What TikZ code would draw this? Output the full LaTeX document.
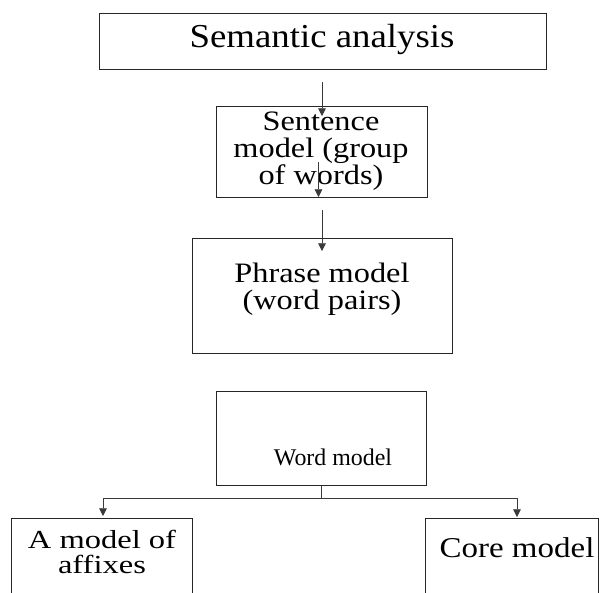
\documentclass[tikz,border=0pt]{standalone}
\usepackage{fontspec}
\setmainfont{Liberation Serif}
\newfontfamily\titlefont[FakeStretch=1.1]{Liberation Serif}
\newfontfamily\widefont[FakeStretch=1.15]{Liberation Serif}
\newfontfamily\widerfont[FakeStretch=1.25]{Liberation Serif}
\usetikzlibrary{arrows.meta}
\definecolor{semLine}{HTML}{262626}
\definecolor{semFlow}{HTML}{3A3A3A}
\tikzset{
  semfig/.style={
    x=0.025cm, y=-0.025cm,
    >={Triangle[length=5.5pt, width=5.5pt]},
  },
  levelbox/.style={
    draw=semLine, line width=0.7pt, fill=white, inner sep=0pt,
  },
  % Beschriftungen liegen frei im Kasten, nicht immer mittig.
  boxtext/.style={
    align=center, inner sep=0pt,
    font=\widefont\fontsize{20pt}{19pt}\selectfont,
  },
  flow/.style={draw=semFlow, line width=0.6pt, ->},
  branch/.style={draw=semFlow, line width=0.6pt},
}
\begin{document}
\begin{tikzpicture}[semfig]
  \clip (0,0) rectangle (600,593);
  \useasboundingbox (0,0) rectangle (600,593);

  % Kaesten
  \node[levelbox, minimum width=11.15cm, minimum height=1.4cm] (sem) at (323,41) {};
  \node[levelbox, minimum width=5.25cm, minimum height=2.25cm] (sent) at (322,152) {};
  \node[levelbox, minimum width=6.475cm, minimum height=2.85cm] (phr) at (322.5,296) {};
  \node[levelbox, minimum width=5.225cm, minimum height=2.35cm] (word) at (321.5,438) {};
  \node[levelbox, minimum width=4.5cm, minimum height=3cm] (aff) at (102,579) {};
  \node[levelbox, minimum width=4.3cm, minimum height=3cm] (core) at (512,579) {};

  % Texte
  \node[anchor=base, inner sep=0pt, font=\titlefont\fontsize{23.8pt}{26pt}\selectfont] (semtxt) at (322,47) {Semantic analysis};
  \node[boxtext] (senttxt) at (321,151) {Sentence\\model (group\\of words)};
  \node[boxtext] (phrtxt) at (322,289.5) {Phrase model\\(word pairs)};
  \node[anchor=base, inner sep=0pt, font=\fontsize{17pt}{19pt}\selectfont] (wordtxt) at (333,465) {Word model};
  \node[boxtext, font=\widerfont\fontsize{18.5pt}{18pt}\selectfont] (afftxt) at (102,552) {A model of\\affixes};
  \node[anchor=base, boxtext, font=\widefont\fontsize{20.4pt}{19pt}\selectfont] (coretxt) at (517,557) {Core model};

  % Verbindungen
  \coordinate (semout) at (322,82);
  \coordinate (sentin) at (322,116);
  \coordinate (sentmid) at (318.5,162);
  \coordinate (sentout) at (318.5,197);
  \coordinate (phrtop) at (322,210);
  \coordinate (phrin) at (322,251);
  \coordinate (split) at (321.5,498);
  \coordinate (affin) at (103,516);
  \coordinate (corein) at (517,517);

  \draw[flow] (semout) -- (sentin);
  \draw[flow] (sentmid) -- (sentout);
  \draw[flow] (phrtop) -- (phrin);
  \draw[branch] (word.south) -- (split);
  \draw[flow] (split) -| (affin);
  \draw[flow] (split) -| (corein);
\end{tikzpicture}
\end{document}
